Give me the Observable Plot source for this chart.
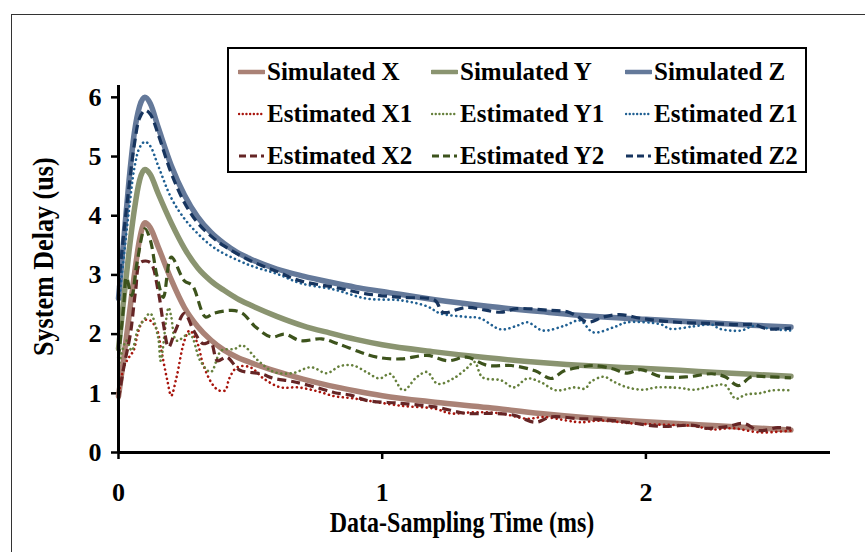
<!DOCTYPE html>
<html>
<head>
<meta charset="utf-8">
<script src="https://cdn.jsdelivr.net/npm/d3@7"></script>
<script src="https://cdn.jsdelivr.net/npm/@observablehq/plot@0.6"></script>
<style>
  body { margin: 0; background: #fff; }
  #wrap { position: relative; width: 865px; height: 552px; overflow: hidden; font-family: "Liberation Serif", "Times New Roman", Times, serif; font-weight: bold; color: #000; }
  #frame { position: absolute; left: 11px; top: 14px; width: 900px; height: 600px; border-left: 1.5px solid #333; border-top: 1.5px solid #333; }
  #chart { position: absolute; left: 0; top: 0; }
  .title { position: absolute; font-size: 30px; white-space: nowrap; }
  #legend { position: absolute; left: 227px; top: 47px; width: 576px; height: 122px; border: 2px solid #000; background: #fff; }
  .item { position: absolute; height: 30px; display: flex; align-items: center; font-size: 25px; white-space: nowrap; }
  .item svg { margin-right: 2px; }
</style>
</head>
<body>
<div id="wrap">
  <div id="frame"></div>
  <div id="chart"></div>
  <div class="title" id="xtitle" style="left:262px; top:505px; width:400px; text-align:center; transform: scaleX(0.8);">Data-Sampling Time (ms)</div>
  <div class="title" id="ytitle" style="left:-57px; top:252px; width:200px; text-align:center; transform: rotate(-90deg) scaleX(0.87);">System Delay (us)</div>
  <div id="legend"></div>
</div>
<script>
// ---- data: [time (ms), delay (us)] ----
const simulatedX = [[0,0.95],[0.02,1.6],[0.04,2.3],[0.06,3.0],[0.08,3.6],[0.1,3.88],[0.12,3.8],[0.15,3.48],[0.2,2.92],[0.25,2.45],[0.3,2.13],[0.35,1.9],[0.4,1.73],[0.45,1.61],[0.5,1.52],[0.6,1.37],[0.7,1.24],[0.8,1.13],[0.9,1.04],[1.0,0.96],[1.2,0.85],[1.4,0.76],[1.6,0.66],[1.8,0.58],[2.0,0.52],[2.2,0.47],[2.4,0.42],[2.55,0.38]];
const simulatedY = [[0,1.75],[0.02,2.6],[0.04,3.4],[0.06,4.1],[0.08,4.6],[0.1,4.78],[0.12,4.7],[0.15,4.38],[0.2,3.88],[0.25,3.45],[0.3,3.12],[0.35,2.9],[0.4,2.74],[0.45,2.6],[0.5,2.49],[0.6,2.3],[0.7,2.14],[0.8,2.02],[0.9,1.91],[1.0,1.82],[1.2,1.7],[1.4,1.6],[1.6,1.52],[1.8,1.46],[2.0,1.42],[2.2,1.37],[2.4,1.32],[2.55,1.29]];
const simulatedZ = [[0,2.6],[0.02,3.6],[0.04,4.6],[0.06,5.4],[0.08,5.85],[0.1,6.0],[0.12,5.9],[0.15,5.5],[0.2,4.85],[0.25,4.35],[0.3,3.98],[0.35,3.72],[0.4,3.53],[0.45,3.38],[0.5,3.27],[0.6,3.1],[0.7,2.98],[0.8,2.88],[0.9,2.79],[1.0,2.72],[1.2,2.58],[1.4,2.47],[1.6,2.38],[1.8,2.3],[2.0,2.25],[2.2,2.2],[2.4,2.15],[2.55,2.12]];
const estimatedX1 = [[0,0.93],[0.02,1.44],[0.04,1.61],[0.057,1.72],[0.076,2.06],[0.095,2.23],[0.12,2.23],[0.147,2.06],[0.16,1.78],[0.185,1.22],[0.2,0.96],[0.22,1.27],[0.25,1.89],[0.27,2.06],[0.3,1.84],[0.32,1.5],[0.355,1.16],[0.38,1.05],[0.405,1.05],[0.42,1.25],[0.45,1.44],[0.5,1.44],[0.55,1.25],[0.615,1.1],[0.68,1.1],[0.75,1.04],[0.82,0.95],[0.88,0.92],[0.94,0.88],[1.07,0.79],[1.2,0.74],[1.26,0.66],[1.35,0.68],[1.45,0.66],[1.55,0.57],[1.61,0.6],[1.7,0.54],[1.75,0.51],[1.83,0.54],[1.95,0.49],[2.06,0.47],[2.18,0.45],[2.25,0.39],[2.33,0.41],[2.43,0.34],[2.55,0.37]];
const estimatedX2 = [[0,0.9],[0.02,1.44],[0.045,2.0],[0.065,2.74],[0.083,3.21],[0.12,3.21],[0.15,2.74],[0.17,2.18],[0.19,1.78],[0.216,2.06],[0.25,2.35],[0.285,2.06],[0.32,1.84],[0.35,1.86],[0.375,1.55],[0.41,1.61],[0.46,1.39],[0.54,1.33],[0.59,1.25],[0.66,1.2],[0.75,1.1],[0.82,1.01],[0.88,0.97],[0.94,0.88],[1.07,0.83],[1.2,0.77],[1.32,0.66],[1.42,0.66],[1.5,0.63],[1.58,0.51],[1.64,0.6],[1.75,0.57],[1.83,0.56],[1.93,0.51],[2.06,0.44],[2.18,0.46],[2.23,0.41],[2.31,0.44],[2.37,0.49],[2.43,0.37],[2.5,0.42],[2.55,0.41]];
const estimatedY1 = [[0,1.44],[0.03,1.89],[0.05,1.72],[0.075,2.1],[0.095,2.23],[0.12,2.35],[0.15,1.95],[0.16,1.55],[0.19,2.45],[0.2,2.29],[0.22,1.89],[0.27,2.0],[0.31,1.55],[0.35,1.36],[0.39,1.72],[0.44,1.75],[0.47,1.81],[0.53,1.55],[0.59,1.36],[0.66,1.34],[0.73,1.44],[0.79,1.34],[0.84,1.46],[0.89,1.47],[0.94,1.36],[0.99,1.25],[1.03,1.33],[1.08,1.05],[1.13,1.27],[1.17,1.36],[1.21,1.16],[1.27,1.25],[1.32,1.42],[1.35,1.53],[1.38,1.27],[1.45,1.22],[1.5,1.1],[1.55,1.25],[1.6,1.19],[1.66,1.05],[1.73,1.1],[1.77,1.08],[1.79,1.19],[1.84,1.28],[1.88,1.19],[1.93,1.1],[1.99,1.06],[2.04,1.1],[2.13,1.09],[2.18,1.06],[2.26,1.13],[2.3,1.14],[2.34,0.91],[2.38,0.98],[2.43,1.0],[2.48,1.05],[2.55,1.05]];
const estimatedY2 = [[0,1.6],[0.02,2.5],[0.03,2.96],[0.05,2.65],[0.07,3.2],[0.1,3.78],[0.12,3.6],[0.145,3.0],[0.17,2.62],[0.2,3.3],[0.25,2.9],[0.28,2.82],[0.33,2.29],[0.36,2.35],[0.43,2.4],[0.47,2.35],[0.52,2.12],[0.58,1.95],[0.63,2.0],[0.69,1.89],[0.77,1.92],[0.83,1.84],[0.92,1.69],[0.98,1.61],[1.07,1.58],[1.17,1.64],[1.25,1.55],[1.32,1.61],[1.4,1.47],[1.49,1.47],[1.58,1.38],[1.64,1.25],[1.69,1.38],[1.75,1.44],[1.8,1.47],[1.87,1.42],[1.93,1.34],[1.98,1.4],[2.06,1.28],[2.16,1.28],[2.25,1.33],[2.3,1.28],[2.35,1.13],[2.4,1.28],[2.46,1.28],[2.55,1.26]];
const estimatedZ1 = [[0,2.5],[0.02,3.3],[0.04,4.1],[0.06,4.8],[0.08,5.15],[0.1,5.25],[0.12,5.18],[0.15,4.85],[0.2,4.3],[0.25,3.95],[0.3,3.7],[0.35,3.5],[0.4,3.36],[0.5,3.16],[0.6,3.02],[0.69,2.86],[0.82,2.75],[0.94,2.6],[1.07,2.57],[1.17,2.47],[1.22,2.35],[1.32,2.29],[1.37,2.27],[1.45,2.08],[1.51,2.14],[1.55,2.2],[1.61,2.06],[1.69,2.14],[1.75,2.23],[1.8,2.03],[1.88,2.12],[1.93,2.2],[2.06,2.16],[2.09,2.09],[2.18,2.13],[2.25,2.16],[2.28,2.09],[2.36,2.06],[2.41,2.14],[2.47,2.09],[2.55,2.06]];
const estimatedZ2 = [[0,2.8],[0.02,3.7],[0.04,4.5],[0.06,5.2],[0.08,5.65],[0.1,5.78],[0.12,5.72],[0.15,5.38],[0.2,4.72],[0.25,4.22],[0.3,3.88],[0.35,3.66],[0.4,3.49],[0.5,3.24],[0.6,3.06],[0.69,2.9],[0.82,2.79],[0.94,2.68],[1.07,2.62],[1.2,2.57],[1.23,2.37],[1.32,2.45],[1.45,2.37],[1.51,2.43],[1.64,2.4],[1.7,2.38],[1.74,2.3],[1.78,2.2],[1.84,2.29],[1.9,2.33],[1.99,2.26],[2.12,2.2],[2.25,2.18],[2.35,2.16],[2.41,2.16],[2.46,2.09],[2.55,2.1]];

const xTicks = [0, 1, 2];
const yTicks = [0, 1, 2, 3, 4, 5, 6];

const seriesNames = ["Simulated X","Simulated Y","Simulated Z","Estimated X1","Estimated Y1","Estimated Z1","Estimated X2","Estimated Y2","Estimated Z2"];
const seriesData = [simulatedX, simulatedY, simulatedZ, estimatedX1, estimatedY1, estimatedZ1, estimatedX2, estimatedY2, estimatedZ2];
const seriesColors = ["#aa8276","#8a9470","#64799a","#a8140c","#66803c","#1f5f92","#652525","#3d531c","#17355f"];

const styleFor = (name) => name.startsWith("Simulated")
  ? {strokeWidth: 5.5, strokeDasharray: null, strokeLinecap: "round", curve: "monotone-x"}
  : name.endsWith("1")
    ? {strokeWidth: 2.6, strokeDasharray: "0.1,4.6", strokeLinecap: "round", curve: "catmull-rom"}
    : {strokeWidth: 3.2, strokeDasharray: "9,5", strokeLinecap: "butt", curve: "catmull-rom"};

const fontFamily = '"Liberation Serif", "Times New Roman", Times, serif';

const lineMarks = seriesNames.map((name, i) => {
  const s = styleFor(name);
  return Plot.line(seriesData[i], {
    x: d => d[0], y: d => d[1],
    stroke: seriesColors[i], strokeWidth: s.strokeWidth,
    strokeDasharray: s.strokeDasharray, strokeLinecap: s.strokeLinecap,
    curve: s.curve
  });
});

const chart = Plot.plot({
  width: 865, height: 552,
  marginLeft: 118, marginRight: 35, marginTop: 85, marginBottom: 100,
  style: {fontFamily, fontWeight: "bold", color: "#000", background: "transparent", overflow: "visible"},
  x: {domain: [0, 2.7]},
  y: {domain: [0, 6.2]},
  marks: [
    Plot.axisX({ticks: xTicks, tickSize: 7, tickPadding: 23, fontSize: 26, strokeWidth: 2.5, label: null, tickFormat: d3.format("d")}),
    Plot.axisY({ticks: yTicks, tickSize: 7, tickPadding: 10, fontSize: 26, strokeWidth: 2.5, label: null, tickFormat: d3.format("d")}),
    ...lineMarks,
    Plot.ruleY([0], {stroke: "#000", strokeWidth: 3}),
    Plot.ruleX([0], {stroke: "#000", strokeWidth: 3})
  ]
});
document.getElementById("chart").appendChild(chart);

// ---- legend (3 x 3 grid, row-major in seriesNames order) ----
const legend = document.getElementById("legend");
const colLeft = [9, 202, 396];
const rowTop = [8, 50, 92];
seriesNames.forEach((name, i) => {
  const s = styleFor(name);
  const div = document.createElement("div");
  div.className = "item";
  div.style.left = colLeft[i % 3] + "px";
  div.style.top = rowTop[Math.floor(i / 3)] + "px";
  const sw = d3.create("svg").attr("width", 27).attr("height", 10);
  sw.append("line").attr("x1", 1).attr("x2", 26).attr("y1", 5).attr("y2", 5)
    .attr("stroke", seriesColors[i])
    .attr("stroke-width", s.strokeWidth === 5.5 ? 4.5 : s.strokeWidth * 0.9)
    .attr("stroke-dasharray", s.strokeDasharray ? (name.endsWith("1") ? "0.1,3.6" : "7,4") : null)
    .attr("stroke-linecap", s.strokeLinecap);
  div.appendChild(sw.node());
  const span = document.createElement("span");
  span.textContent = name;
  div.appendChild(span);
  legend.appendChild(div);
});
</script>
</body>
</html>
